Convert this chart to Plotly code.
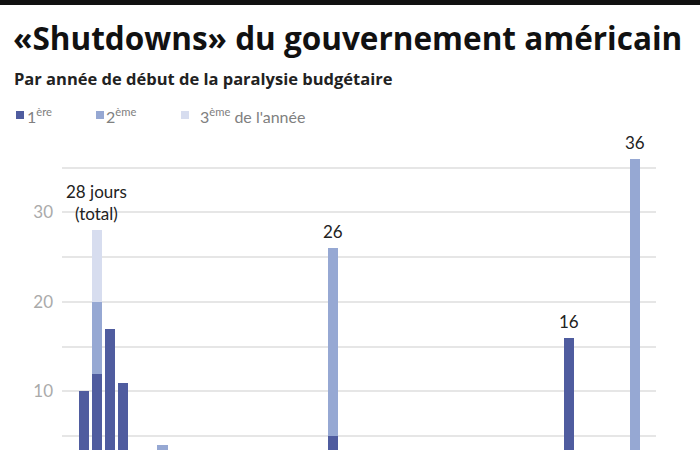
import plotly.graph_objects as go

# ---- data ----
years = [1976, 1977, 1978, 1979, 1980, 1981, 1982, 1983, 1984, 1986, 1987, 1990, 1995, 2013, 2018]
first = [10, 12, 17, 11, 1, 2, 1, 3, 2, 1, 1, 3, 5, 16, 1]
second = [0, 8, 0, 0, 0, 0, 3, 0, 1, 0, 0, 0, 21, 0, 35]
third = [0, 8, 0, 0, 0, 0, 0, 0, 0, 0, 0, 0, 0, 0, 0]
series_names = ["1<sup>ère</sup>", "2<sup>ème</sup>", "3<sup>ème</sup> de l'année"]
colors = ["#4f5c9f", "#96a8d3", "#d7ddef"]
labelled = {1977: "28 jours<br>(total)", 1995: "26", 2013: "16", 2018: "36"}
ytick_vals = [10, 20, 30]
ytick_text = ["10", "20", "30"]
ygrid_minor = [5, 15, 25, 35]

W, H = 700, 450
L, R, T, B = 62, 44, 140, 0
PW, PH = W - L - R, H - T - B


def px_x(px):
    return (px - L) / PW


def px_y(py):
    return (H - B - py) / PH


FONT = "Lato"
HEAD = "Open Sans"

fig = go.Figure()
for vals, name, col in zip([first, second, third], series_names, colors):
    fig.add_trace(go.Bar(x=years, y=vals, name=name, marker_color=col,
                         marker_line_width=0, width=0.78, showlegend=False,
                         hoverinfo="skip"))

totals = [a + b + c for a, b, c in zip(first, second, third)]
for yr, tot in zip(years, totals):
    if yr in labelled:
        fig.add_annotation(x=yr, y=tot, text=labelled[yr], showarrow=False,
                           yanchor="bottom", yshift=4,
                           font=dict(family=FONT, size=17, color="#222"))

# title / subtitle
fig.add_annotation(xref="paper", yref="paper", x=px_x(11), y=px_y(37),
                   xanchor="left", yanchor="middle", showarrow=False,
                   text="<b>«Shutdowns» du gouvernement américain</b>",
                   font=dict(family=HEAD, size=31.5, color="#111"))
fig.add_annotation(xref="paper", yref="paper", x=px_x(12), y=px_y(78),
                   xanchor="left", yanchor="middle", showarrow=False,
                   text="<b>Par année de début de la paralysie budgétaire</b>",
                   font=dict(family=HEAD, size=16.5, color="#222"))

# legend
leg_sq = [16, 96, 181]
leg_tx = [25, 104, 198]
for sx, tx, name, col in zip(leg_sq, leg_tx, series_names, colors):
    fig.add_shape(type="rect", xref="paper", yref="paper",
                  x0=px_x(sx), x1=px_x(sx + 8), y0=px_y(119), y1=px_y(111),
                  fillcolor=col, line_width=0)
    fig.add_annotation(xref="paper", yref="paper", x=px_x(tx), y=px_y(115),
                       xanchor="left", yanchor="middle", showarrow=False,
                       text=name, font=dict(family=FONT, size=16, color="#808080"))

# top black rule
fig.add_shape(type="rect", xref="paper", yref="paper",
              x0=px_x(0), x1=px_x(W), y0=px_y(5), y1=px_y(0),
              fillcolor="#111", line_width=0)

fig.update_layout(
    width=W, height=H, barmode="stack",
    margin=dict(l=L, r=R, t=T, b=B, pad=0),
    plot_bgcolor="white", paper_bgcolor="white",
    bargap=0,
    xaxis=dict(range=[1974.35, 2019.6], showgrid=False, showticklabels=False,
               zeroline=False, showline=False, ticks=""),
    yaxis=dict(range=[3.47, 38.07], tickvals=ytick_vals, ticktext=ytick_text,
               showgrid=True, gridcolor="#e6e6e6", gridwidth=1.5,
               minor=dict(tickvals=ygrid_minor, showgrid=True,
                          gridcolor="#e6e6e6", gridwidth=1.5, ticks=""),
               zeroline=False, showline=False, ticks="",
               ticklabelstandoff=8,
               tickfont=dict(family=FONT, size=17, color="#aaa")),
)

fig.write_html("out.html", config={"displayModeBar": False},
               post_script="document.body.style.margin='0';document.body.style.overflow='hidden';")
